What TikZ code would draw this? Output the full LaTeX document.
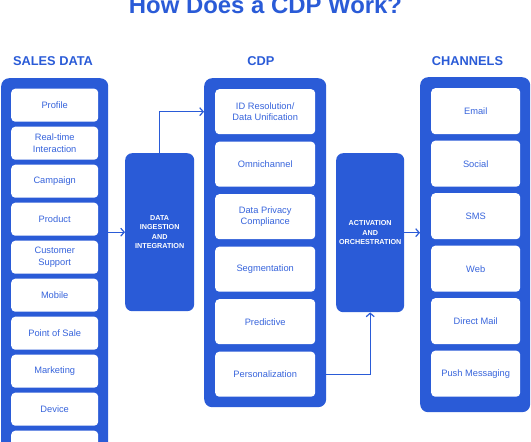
\documentclass[tikz,border=0pt]{standalone}
\usepackage{fontspec}
\setmainfont{Liberation Sans}
\usetikzlibrary{arrows.meta}
\definecolor{cdpblue}{HTML}{2A5BD7}
\definecolor{cdptext}{HTML}{3764DC}
\begin{document}
\begin{tikzpicture}[x=1pt,y=-1pt,
 panel/.style={fill=cdpblue, draw=none, rounded corners=8pt, anchor=north west, inner sep=0pt},
 item/.style={fill=white, draw=none, rounded corners=4pt, anchor=north west, inner sep=0pt, text=cdptext, font=\fontsize{9.3}{11.5}\selectfont, align=center},
 stage/.style={fill=cdpblue, draw=none, rounded corners=7pt, anchor=north west, inner sep=0pt, text=white, font=\bfseries\fontsize{7.2}{9.5}\selectfont, align=center},
 head/.style={text=cdpblue, font=\bfseries\fontsize{12.8}{14}\selectfont, anchor=base},
 conn/.style={draw=cdpblue, line width=1.2pt, -{Straight Barb[length=3.5pt,width=8pt,line width=1.2pt]}}
]
\useasboundingbox (0,0) rectangle (531,442);
\node[text=cdpblue, font=\bfseries\fontsize{23.9}{26}\selectfont, anchor=base] (title) at (265.5,13.5) {How Does a CDP Work?};
\node[head] (hsales) at (53,65) {SALES DATA};
\node[head] (hcdp) at (261,65) {CDP};
\node[head] (hchan) at (467.5,65) {CHANNELS};
% containers
\node[panel, minimum width=107pt, minimum height=400pt] (sales) at (1,78) {};
\node[panel, minimum width=122pt, minimum height=329pt] (cdp) at (204,78) {};
\node[panel, minimum width=110pt, minimum height=335pt] (chan) at (420,77) {};
% stages
\node[stage, minimum width=69pt, minimum height=158pt] (ingest) at (125,153) {DATA\\INGESTION\\AND\\INTEGRATION};
\node[stage, minimum width=68pt, minimum height=159pt] (act) at (336,153) {ACTIVATION\\AND\\ORCHESTRATION};
% sales items
\foreach \t [count=\i] in {Profile,{Real-time\\Interaction},Campaign,Product,{Customer\\Support},Mobile,Point of Sale,Marketing,Device,{}}
  \node[item, minimum width=87pt, minimum height=33pt] (s\i) at (11,{88.5+38*(\i-1)}) {\t};
% cdp items
\foreach \t [count=\i] in {{ID Resolution/\\Data Unification},Omnichannel,{Data Privacy\\Compliance},Segmentation,Predictive,Personalization}
  \node[item, minimum width=100pt, minimum height=45pt] (c\i) at (215,{89+52.5*(\i-1)}) {\t};
% channel items
\foreach \t [count=\i] in {Email,Social,SMS,Web,Direct Mail,Push Messaging}
  \node[item, minimum width=89pt, minimum height=46pt] (h\i) at (431,{88+52.5*(\i-1)}) {\t};
% connectors
\draw[conn] (sales.east |- ingest.west) -- (ingest.west);
\draw[conn] (ingest.north) |- (cdp.west |- c1.west);
\draw[conn] (cdp.east |- c6.east) -| (act.south);
\draw[conn] (act.east) -- (chan.west |- act.east);
\end{tikzpicture}
\end{document}
